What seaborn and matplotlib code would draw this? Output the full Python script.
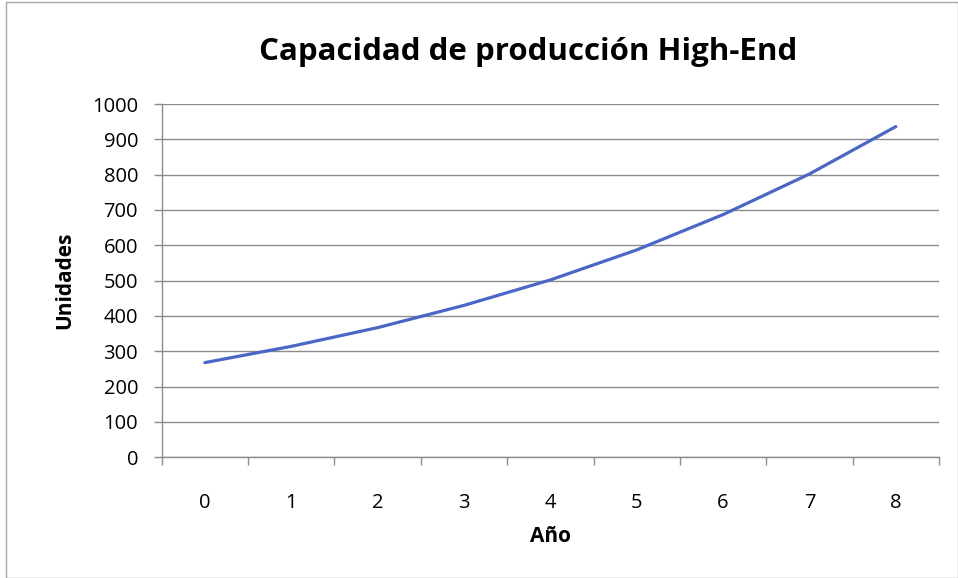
import matplotlib
matplotlib.use("Agg")
import matplotlib.pyplot as plt
import seaborn as sns
import pandas as pd
from matplotlib.patches import Rectangle

years = [0, 1, 2, 3, 4, 5, 6, 7, 8]
unidades = [268, 314, 367, 430, 502, 587, 687, 802, 936]
yticks = [0, 100, 200, 300, 400, 500, 600, 700, 800, 900, 1000]

title = "Capacidad de producción High-End"
xlabel = "Año"
ylabel = "Unidades"

sns.set_theme(style="white")
plt.rcParams['font.family'] = ['Open Sans', 'DejaVu Sans']
plt.rcParams['text.color'] = 'black'
plt.rcParams['axes.labelcolor'] = 'black'

df = pd.DataFrame({"Año": years, "Unidades": unidades})

W, H = 958, 578
fig = plt.figure(figsize=(W / 100, H / 100), dpi=100)
fig.patch.set_facecolor("white")

# outer chart border
fig.patches.append(Rectangle((5.5 / W, 0), 1 - 6 / W, 1 - 1.5 / H, transform=fig.transFigure,
                             fill=False, edgecolor="#a6a6a6", linewidth=1.0))

left, right, top, bottom = 161.7, 939, 104, 457.3
ax = fig.add_axes([left / W, 1 - bottom / H, (right - left) / W, (bottom - top) / H])

sns.lineplot(data=df, x="Año", y="Unidades", ax=ax, color="#4a67c8", linewidth=2.3,
             solid_capstyle="round")

ax.set_xlim(-0.5, 8.5)
ax.set_ylim(0, 1000)
ax.set_yticks(yticks)
ax.set_yticklabels([str(v) for v in yticks])
ax.set_xticks(years)
ax.set_xticklabels([str(v) for v in years])
ax.set_xticks([i - 0.5 for i in range(10)], minor=True)

grid_c = "#8c8c8c"
ax.yaxis.grid(True, color=grid_c, linewidth=1.0)
ax.xaxis.grid(False)
for s in ["top", "right"]:
    ax.spines[s].set_visible(False)
for s in ["left", "bottom"]:
    ax.spines[s].set_color(grid_c)
    ax.spines[s].set_linewidth(1.0)

ax.tick_params(axis="y", which="major", length=6, width=1, color=grid_c, pad=11,
               labelsize=14.5, labelcolor="black", left=True)
ax.tick_params(axis="x", which="major", length=0, pad=26, labelsize=14.5, labelcolor="black")
ax.tick_params(axis="x", which="minor", length=6, width=1, color=grid_c, bottom=True)

ax.set_xlabel(xlabel, fontsize=15, fontweight="bold", labelpad=9)
ax.set_ylabel(ylabel, fontsize=15, fontweight="bold", labelpad=12)
fig.text(528 / W, 1 - 52 / H, title, fontsize=22.5, fontweight="bold",
         ha="center", va="center")

fig.savefig("out.png", dpi=100, facecolor="white")
